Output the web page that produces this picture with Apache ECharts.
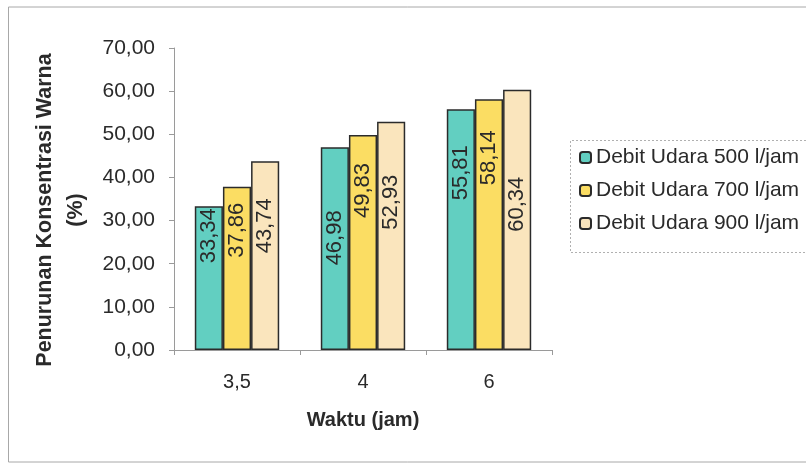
<!DOCTYPE html>
<html>
<head>
<meta charset="utf-8">
<script src="https://cdn.jsdelivr.net/npm/echarts@6/dist/echarts.min.js"></script>
<style>
  html, body { margin: 0; padding: 0; background: #fff; }
  #chart { width: 806px; height: 466px; }
</style>
</head>
<body>
<div id="chart"></div>
<script>
// Waktu (jam) categories
const categories = ['3,5', '4', '6'];
// Penurunan konsentrasi warna (%) for each air flow rate
const seriesNames = ['Debit Udara 500 l/jam', 'Debit Udara 700 l/jam', 'Debit Udara 900 l/jam'];
const debit500 = [33.34, 46.98, 55.81];
const debit700 = [37.86, 49.83, 58.14];
const debit900 = [43.74, 52.93, 60.34];
const yTicks = { min: 0, max: 70, interval: 10 };

// Distance (px) from each bar's top down to where its value label starts
const labelDrop = [
  [2, 63, 36],
  [16, 28, 31],
  [37, 53, 87]
];

const colors = ['#62cfc1', '#fbdd63', '#fae5bd'];
const font = 'Liberation Sans, Arial, sans-serif';
const narrow = 'Liberation Sans Narrow, Liberation Sans, Arial, sans-serif';

const fmt = v => v.toFixed(2).replace('.', ',');

function makeSeries(name, values, si) {
  return {
    name: name,
    type: 'bar',
    barGap: '0%',
    barCategoryGap: '33%',
    itemStyle: { color: colors[si], borderColor: '#2b2b2b', borderWidth: 1.5 },
    data: values.map((v, ci) => ({
      value: v,
      label: { position: ['50%', labelDrop[si][ci]] }
    })),
    label: {
      show: true,
      rotate: 90,
      align: 'right',
      verticalAlign: 'middle',
      fontFamily: font,
      fontSize: 22,
      color: '#2a2a2a',
      formatter: p => fmt(p.value)
    }
  };
}

const chart = echarts.init(document.getElementById('chart'), null, { renderer: 'canvas' });
chart.setOption({
  animation: false,
  backgroundColor: '#ffffff',
  grid: { left: 174, right: 254, top: 48, bottom: 116, containLabel: false },
  legend: {
    data: seriesNames,
    orient: 'vertical',
    left: 574,
    top: 142,
    itemWidth: 11,
    itemHeight: 11,
    itemGap: 12,
    textStyle: { fontFamily: font, fontSize: 21, color: '#2a2a2a' }
  },
  xAxis: {
    type: 'category',
    data: categories,
    name: 'Waktu (jam)',
    nameLocation: 'middle',
    nameGap: 60,
    nameTextStyle: { fontFamily: narrow, fontWeight: 'bold', fontSize: 20, color: '#2a2a2a' },
    axisLine: { lineStyle: { color: '#9a9a9a', width: 1 } },
    axisTick: { show: true, length: 5, lineStyle: { color: '#9a9a9a' } },
    axisLabel: { fontFamily: narrow, fontSize: 20, color: '#2a2a2a', margin: 22 }
  },
  yAxis: {
    type: 'value',
    min: yTicks.min,
    max: yTicks.max,
    interval: yTicks.interval,
    name: 'Penurunan Konsentrasi Warna\n(%)',
    nameLocation: 'middle',
    nameGap: 82,
    nameTextStyle: { fontFamily: font, fontWeight: 'bold', fontSize: 21.5, color: '#2a2a2a', lineHeight: 31, align: 'center', padding: [0, 22, 0, 0] },
    splitLine: { show: false },
    axisLine: { show: true, lineStyle: { color: '#9a9a9a', width: 1 } },
    axisTick: { show: true, length: 5, lineStyle: { color: '#9a9a9a' } },
    axisLabel: { fontFamily: font, fontSize: 21, color: '#2a2a2a', margin: 19, formatter: v => fmt(v) }
  },
  graphic: [
    {
      type: 'polyline',
      shape: { points: [[806, 7], [8.5, 7], [8.5, 462], [806, 462]] },
      style: { stroke: '#a8a8a8', lineWidth: 1, fill: null },
      silent: true
    },
    {
      type: 'polyline',
      shape: { points: [[806, 140.5], [570.5, 140.5], [570.5, 252.5], [806, 252.5]] },
      style: { stroke: '#b0b0b0', lineWidth: 1, lineDash: [2, 2], fill: null },
      silent: true
    }
  ],
  series: [
    makeSeries(seriesNames[0], debit500, 0),
    makeSeries(seriesNames[1], debit700, 1),
    makeSeries(seriesNames[2], debit900, 2)
  ]
});
</script>
</body>
</html>
